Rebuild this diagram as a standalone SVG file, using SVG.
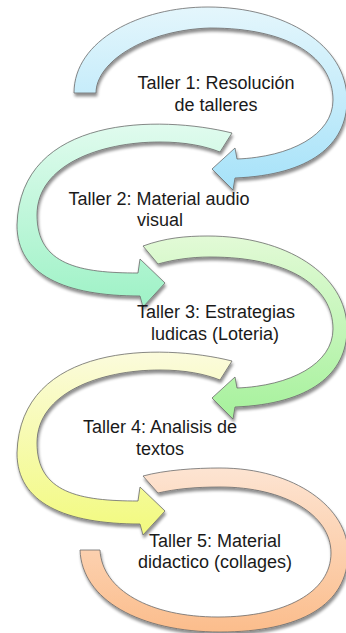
<svg xmlns="http://www.w3.org/2000/svg" width="346" height="633" viewBox="0 0 346 633">
<style>
.arr{stroke:#6b6b6b;stroke-width:0.8;stroke-linejoin:round;filter:url(#sh)}
.lbl{font-family:"Liberation Sans","Arial",sans-serif;font-size:18px;fill:#1a1a1a;text-anchor:middle}
</style>
<defs>
<filter id="sh" x="-10%" y="-10%" width="125%" height="125%">
<feGaussianBlur in="SourceAlpha" stdDeviation="1.6"/>
<feOffset dx="1" dy="2.5" result="b"/>
<feComponentTransfer><feFuncA type="linear" slope="0.45"/></feComponentTransfer>
<feMerge><feMergeNode/><feMergeNode in="SourceGraphic"/></feMerge>
</filter>
<linearGradient id="g1" x1="0" y1="0" x2="0" y2="1"><stop offset="0" stop-color="#e4f6fc"/><stop offset="1" stop-color="#a6e2f9"/></linearGradient>
<linearGradient id="g2" x1="0" y1="0" x2="0" y2="1"><stop offset="0" stop-color="#e0fbee"/><stop offset="1" stop-color="#9ef2c6"/></linearGradient>
<linearGradient id="g3" x1="0" y1="0" x2="0" y2="1"><stop offset="0" stop-color="#e2fad6"/><stop offset="1" stop-color="#a6f19c"/></linearGradient>
<linearGradient id="g4" x1="0" y1="0" x2="0" y2="1"><stop offset="0" stop-color="#fbfbdc"/><stop offset="1" stop-color="#f2fa7e"/></linearGradient>
<linearGradient id="g5" x1="0" y1="0" x2="0" y2="1"><stop offset="0" stop-color="#fde4d2"/><stop offset="1" stop-color="#fbbd8c"/></linearGradient>
</defs>
<g id="node1">
<path class="arr" fill="url(#g1)" d="M74,93 C74,40 140,7 208,7 C285,7 347,45 347,100 C347,145 310,175 235,178 L233,190 L212,169 L235,148 L237,159 C290,157 333,135 333,100 C333,58 290,28 210,28 C145,30 96,62 96,93 Z"/>
<text class="lbl" x="216" y="89">Taller 1: Resolución</text>
<text class="lbl" x="216" y="111">de talleres</text>
</g>
<g id="node2">
<path class="arr" fill="url(#g2)" d="M232,133 C160,115 20,115 17,225 C17,275 65,296 140,296 L143,307 L165,283 L140,259 L138,273 C80,273 37,265 37,215 C37,165 100,142 160,142 C185,142 205,146 220,152 Z"/>
<text class="lbl" x="159" y="205">Taller 2: Material audio</text>
<text class="lbl" x="160" y="226">visual</text>
</g>
<g id="node3">
<path class="arr" fill="url(#g3)" d="M143,246 C165,238 185,236 208,236 C285,236 347,274 347,329 C347,374 310,404 235,407 L233,419 L212,398 L235,377 L237,388 C290,386 333,364 333,329 C333,287 290,257 210,257 C190,257 172,260 158,264 Z"/>
<text class="lbl" x="216" y="318">Taller 3: Estrategias</text>
<text class="lbl" x="215" y="340">ludicas (Loteria)</text>
</g>
<g id="node4">
<path class="arr" fill="url(#g4)" transform="translate(0,228)" d="M232,133 C160,115 20,115 17,225 C17,275 65,296 140,296 L143,307 L165,283 L140,259 L138,273 C80,273 37,265 37,215 C37,165 100,142 160,142 C185,142 205,146 220,152 Z"/>
<text class="lbl" x="160" y="433">Taller 4: Analisis de</text>
<text class="lbl" x="160" y="455">textos</text>
</g>
<g id="node5">
<path class="arr" fill="url(#g5)" d="M143,476 C165,470 195,468 220,468 C295,468 348,508 348,553 C348,605 300,632 220,632 C140,632 82,600 80,550 L100,550 C102,590 150,617 218,617 C285,617 331,592 331,553 C331,515 285,487 220,487 C195,487 175,489 158,493 Z"/>
<text class="lbl" x="215" y="547">Taller 5: Material</text>
<text class="lbl" x="215" y="568">didactico (collages)</text>
</g>
<g id="connectors"></g>
</svg>
